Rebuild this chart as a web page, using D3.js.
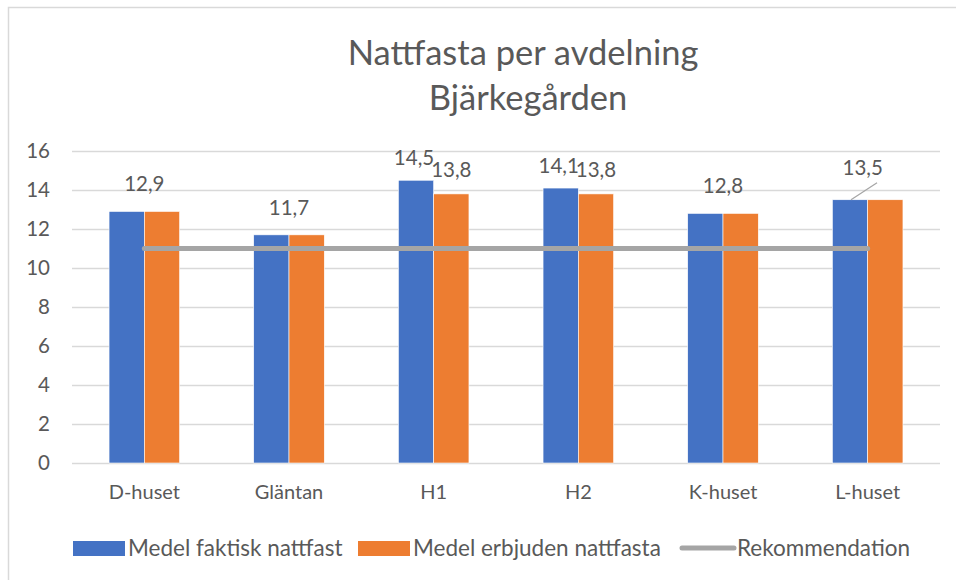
<!DOCTYPE html>
<html>
<head>
<meta charset="utf-8">
<script src="https://cdn.jsdelivr.net/npm/d3@7"></script>
<style>
  body { margin: 0; background: #fff; }
  svg text { font-family: Lato, "Open Sans", sans-serif; fill: #595959; }
</style>
</head>
<body>
<div id="chart"></div>
<script>
// chart data
const categories = ["D-huset", "Gläntan", "H1", "H2", "K-huset", "L-huset"];
const faktisk = [12.9, 11.7, 14.5, 14.1, 12.8, 13.5];
const erbjuden = [12.9, 11.7, 13.8, 13.8, 12.8, 13.5];
const rekommendation = [11, 11, 11, 11, 11, 11];
const seriesNames = ["Medel faktisk nattfast", "Medel erbjuden nattfasta", "Rekommendation"];
const yTicks = [0, 2, 4, 6, 8, 10, 12, 14, 16];

const W = 956, H = 580;
const margin = { left: 72, right: 16, top: 151, bottom: 117 };

const svg = d3.select("#chart").append("svg")
    .attr("width", W)
    .attr("height", H);

// outer frame
svg.append("rect")
    .attr("x", 8.5).attr("y", 7.5)
    .attr("width", 1000).attr("height", 700)
    .attr("fill", "none")
    .attr("stroke", "#d9d9d9")
    .attr("stroke-width", 1.5);

// title
svg.append("text")
    .attr("x", 523).attr("y", 65)
    .attr("text-anchor", "middle")
    .attr("font-size", 34.5)
    .text("Nattfasta per avdelning");
svg.append("text")
    .attr("x", 528).attr("y", 110)
    .attr("text-anchor", "middle")
    .attr("font-size", 34.5)
    .text("Bjärkegården");

const x = d3.scaleBand()
    .domain(categories)
    .range([margin.left, W - margin.right]);

const y = d3.scaleLinear()
    .domain([0, 16])
    .range([H - margin.bottom, margin.top]);

const x1 = d3.scaleBand()
    .domain([0, 1])
    .range([0, x.bandwidth()])
    .paddingInner(0)
    .paddingOuter(1.05);

// gridlines
svg.append("g")
    .selectAll("line")
    .data(yTicks)
    .enter()
    .append("line")
    .attr("x1", margin.left)
    .attr("x2", W - margin.right)
    .attr("y1", d => Math.round(y(d)) + 0.5)
    .attr("y2", d => Math.round(y(d)) + 0.5)
    .attr("stroke", "#d9d9d9")
    .attr("stroke-width", 1.3);

// y axis labels
const yAxis = d3.axisLeft(y).tickValues(yTicks).tickSize(0).tickPadding(0);
svg.append("g")
    .attr("transform", `translate(${margin.left - 22},0)`)
    .call(yAxis)
    .call(g => g.select(".domain").remove())
    .call(g => g.selectAll("text")
        .attr("font-size", 20.5)
        .attr("font-family", "Lato, sans-serif")
        .attr("fill", "#595959"));

// x axis labels
const xAxis = d3.axisBottom(x).tickSize(0).tickPadding(0);
svg.append("g")
    .attr("transform", `translate(0,${H - margin.bottom + 22})`)
    .call(xAxis)
    .call(g => g.select(".domain").remove())
    .call(g => g.selectAll("text")
        .attr("font-size", 20)
        .attr("font-family", "Lato, sans-serif")
        .attr("fill", "#595959"));

const colors = ["#4472c4", "#ed7d31", "#a5a5a5"];
const barSeries = [faktisk, erbjuden];

// bars
barSeries.forEach((vals, s) => {
    svg.append("g")
        .selectAll("rect")
        .data(vals)
        .enter()
        .append("rect")
        .attr("x", (d, i) => x(categories[i]) + x1(s))
        .attr("y", d => y(d))
        .attr("width", x1.bandwidth())
        .attr("height", d => y(0) - y(d))
        .attr("fill", colors[s])
        .attr("stroke", "#fff")
        .attr("stroke-width", 0.6);
});

// recommendation line
const line = d3.line()
    .x((d, i) => x(categories[i]) + x.bandwidth() / 2)
    .y(d => y(d));
svg.append("path")
    .datum(rekommendation)
    .attr("d", line)
    .attr("fill", "none")
    .attr("stroke", colors[2])
    .attr("stroke-width", 5)
    .attr("stroke-linecap", "round");

// data labels
const fmt = v => String(v).replace(".", ",");
categories.forEach((c, i) => {
    const a = faktisk[i], b = erbjuden[i];
    const labelG = svg.append("g").attr("font-size", 20.5);
    if (a === b) {
        let lx = x(c) + x.bandwidth() / 2;
        let ly = y(a) - 20;
        if (c === "L-huset") {
            // moved label with leader line
            lx = x(c) + x.bandwidth() / 2 - 5;
            ly = y(a) - 25;
            svg.append("line")
                .attr("x1", x(c) + x1(0) + x1.bandwidth() / 2 + 1)
                .attr("y1", y(a))
                .attr("x2", x(c) + x1(0) + x1.bandwidth() / 2 + 27)
                .attr("y2", y(a) - 17)
                .attr("stroke", "#a5a5a5")
                .attr("stroke-width", 1.2);
        }
        labelG.append("text")
            .attr("x", lx).attr("y", ly)
            .attr("text-anchor", "middle")
            .text(fmt(a));
    } else {
        labelG.append("text")
            .attr("x", x(c) + x1(0) + x1.bandwidth() / 2 - 2)
            .attr("y", y(a) - 15)
            .attr("text-anchor", "middle")
            .text(fmt(a));
        labelG.append("text")
            .attr("x", x(c) + x1(1) + x1.bandwidth() / 2 + 0)
            .attr("y", y(b) - 17)
            .attr("text-anchor", "middle")
            .text(fmt(b));
    }
});

// legend
const legend = svg.append("g").attr("transform", "translate(0,548)");
const legendItems = [
    { name: seriesNames[0], color: colors[0], x: 73, type: "rect" },
    { name: seriesNames[1], color: colors[1], x: 358, type: "rect" },
    { name: seriesNames[2], color: colors[2], x: 682, type: "line" }
];
legendItems.forEach(it => {
    if (it.type === "rect") {
        legend.append("rect")
            .attr("x", it.x).attr("y", -7)
            .attr("width", 52).attr("height", 15)
            .attr("fill", it.color);
    } else {
        legend.append("line")
            .attr("x1", it.x).attr("x2", it.x + 52)
            .attr("y1", 0).attr("y2", 0)
            .attr("stroke", it.color)
            .attr("stroke-width", 5)
            .attr("stroke-linecap", "round");
    }
    legend.append("text")
        .attr("x", it.x + 55).attr("y", 8)
        .attr("font-size", 22.5)
        .text(it.name);
});
</script>
</body>
</html>
